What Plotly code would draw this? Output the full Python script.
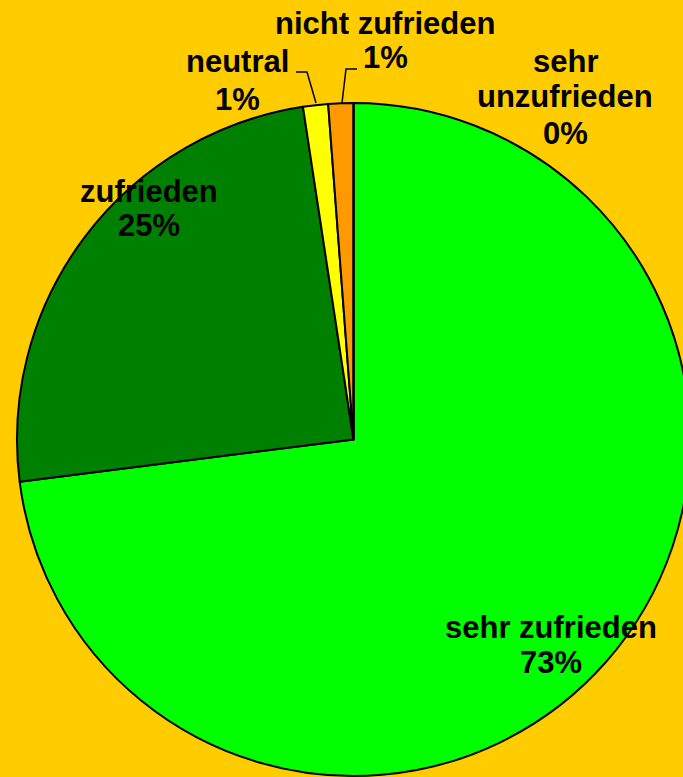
import plotly.graph_objects as go

# ---- data ----
categories = ["sehr zufrieden", "zufrieden", "neutral", "nicht zufrieden", "sehr unzufrieden"]
values = [73.0, 24.6, 1.2, 1.2, 0.0]
colors = ["#00FF00", "#008000", "#FFFF00", "#FF9900", "#FF0000"]

W, H = 700, 790
BG = "#FFCC00"

def px(x):
    return x / W

def py(y):
    return 1 - y / H

fig = go.Figure()
fig.add_trace(go.Pie(
    labels=categories,
    values=values,
    sort=False,
    direction="clockwise",
    rotation=0,
    marker=dict(colors=colors, line=dict(color="black", width=2)),
    textinfo="none",
    hoverinfo="label+percent",
    showlegend=False,
    domain=dict(x=[px(17), px(690)], y=[py(776), py(103)]),
))

total = sum(values)
# label placement: centre x and the vertical centre of each text line (pixels)
label_pos = [
    (551, [627, 662], False),
    (149, [192, 226], False),
    (237, [62, 99], False),
    (385, [23, 58], False),
    (565, [62, 97, 133], True),
]
FONT = dict(family="Liberation Sans, Arial, sans-serif", size=31, color="black")
for cat, val, (x, ys, wrap) in zip(categories, values, label_pos):
    lines = cat.split(" ") if wrap else [cat]
    pct = round(val / total * 100)
    lines = lines + [f"{pct}%"]
    for line, y in zip(lines, ys):
        fig.add_annotation(
            x=px(x), y=py(y), xref="paper", yref="paper",
            text=f"<b>{line}</b>",
            showarrow=False, xanchor="center", yanchor="middle",
            font=FONT,
        )

# leader lines for the small slices
leaders = [
    [(296, 72), (307, 72), (316, 103)],
    [(357, 69), (346, 69), (342, 103)],
]
for pts in leaders:
    path = "M " + " L ".join(f"{px(a)},{py(b)}" for a, b in pts)
    fig.add_shape(type="path", path=path, xref="paper", yref="paper",
                  line=dict(color="black", width=1.5))

fig.update_layout(
    width=W, height=H,
    margin=dict(l=0, r=0, t=0, b=0),
    paper_bgcolor=BG, plot_bgcolor=BG,
    showlegend=False,
)

fig.write_html(
    "out.html",
    config={"displayModeBar": False},
    post_script="document.body.style.margin='0';document.body.style.overflow='hidden';document.documentElement.style.overflow='hidden';document.body.style.background='#FFCC00';",
)
